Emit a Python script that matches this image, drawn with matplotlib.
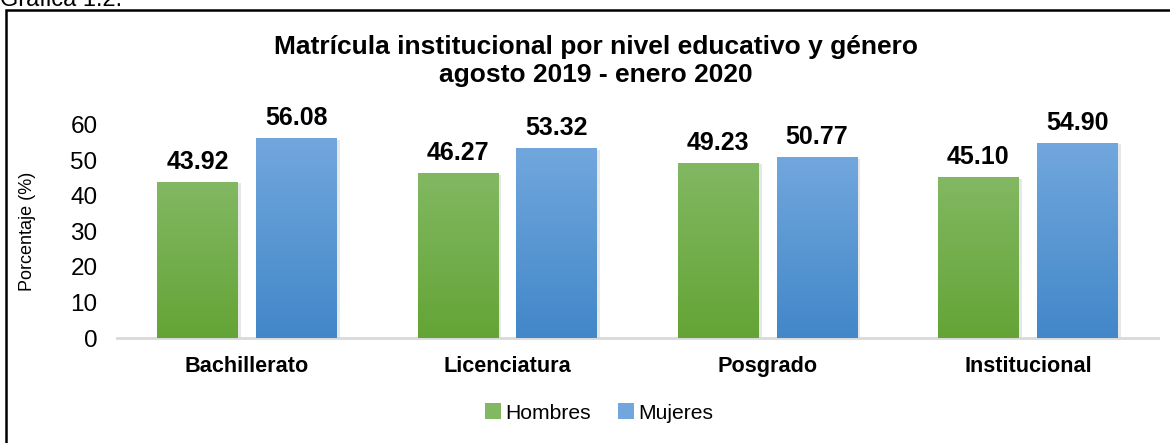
import numpy as np
import matplotlib.pyplot as plt
from matplotlib.colors import LinearSegmentedColormap
from matplotlib.patches import Rectangle

plt.rcParams['font.family'] = ['Liberation Sans', 'DejaVu Sans']

categorias = ['Bachillerato', 'Licenciatura', 'Posgrado', 'Institucional']
hombres = [43.92, 46.27, 49.23, 45.10]
mujeres = [56.08, 53.32, 50.77, 54.90]

verde = ('#64a436', '#82b862')
azul = ('#4287c9', '#71a7dd')

fig = plt.figure(figsize=(11.7, 4.43), dpi=100)
ax = fig.add_axes([0.1, 0.237, 0.8897, 0.481])

x = np.arange(len(categorias))
w = 0.31
off = 0.19

def gradient_bars(bars, cols):
    cmap = LinearSegmentedColormap.from_list('g', cols)
    grad = np.linspace(0, 1, 256).reshape(-1, 1)
    for b in bars:
        x0, h, bw = b.get_x(), b.get_height(), b.get_width()
        # faint shadow
        ax.add_patch(Rectangle((x0 + 0.012, -0.3), bw, h, color='#d8d8d8',
                               alpha=0.6, zorder=1, lw=0))
        ax.imshow(grad, extent=(x0, x0 + bw, 0, h), origin='lower',
                  cmap=cmap, aspect='auto', zorder=2)

b1 = ax.bar(x - off, hombres, w, color=verde[1], label='Hombres', zorder=2)
b2 = ax.bar(x + off, mujeres, w, color=azul[1], label='Mujeres', zorder=2)
gradient_bars(b1, verde)
gradient_bars(b2, azul)

for bars, vals in ((b1, hombres), (b2, mujeres)):
    for b, v in zip(bars, vals):
        ax.text(b.get_x() + b.get_width() / 2, v + 2.4, f'{v:.2f}',
                ha='center', va='bottom', fontsize=18, fontweight='bold',
                clip_on=False)

ax.set_xlim(-0.5, len(categorias) - 0.5)
ax.set_ylim(0, 60)
ax.set_yticks(range(0, 61, 10))
ax.set_xticks(x)
ax.set_xticklabels(categorias, fontsize=15.6, fontweight='bold')
ax.tick_params(axis='y', length=0, pad=14, labelsize=17.5)
ax.tick_params(axis='x', length=0, pad=13)
for s in ('top', 'right', 'left'):
    ax.spines[s].set_visible(False)
ax.spines['bottom'].set_color('#d9d9d9')
ax.spines['bottom'].set_linewidth(2)
ax.spines['bottom'].set_zorder(0)
ax.set_ylabel('Porcentaje (%)', fontsize=13)
ax.yaxis.set_label_coords(-0.078, 0.5)

fig.text(0.509, 1 - 47 / 443, 'Matrícula institucional por nivel educativo y género',
         ha='center', va='center', fontsize=19, fontweight='bold')
fig.text(0.509, 1 - 75 / 443, 'agosto 2019 - enero 2020',
         ha='center', va='center', fontsize=19, fontweight='bold')
fig.text(0.0, 1 - 6 / 443, 'Gráfica 1.2.', ha='left', va='baseline', fontsize=17)

fig.legend(handles=[b1, b2], loc='center', bbox_to_anchor=(0.512, 1 - 413 / 443),
           ncol=2, frameon=False, fontsize=15.2, handlelength=0.75,
           handleheight=0.75, handletextpad=0.2, columnspacing=1.3)

fig.add_artist(Rectangle((6 / 1170, -0.05), 1.2, 1 - 10 / 443 + 0.05,
                         transform=fig.transFigure, fill=False,
                         edgecolor='black', lw=1.8))

fig.savefig('out.png', dpi=100)
